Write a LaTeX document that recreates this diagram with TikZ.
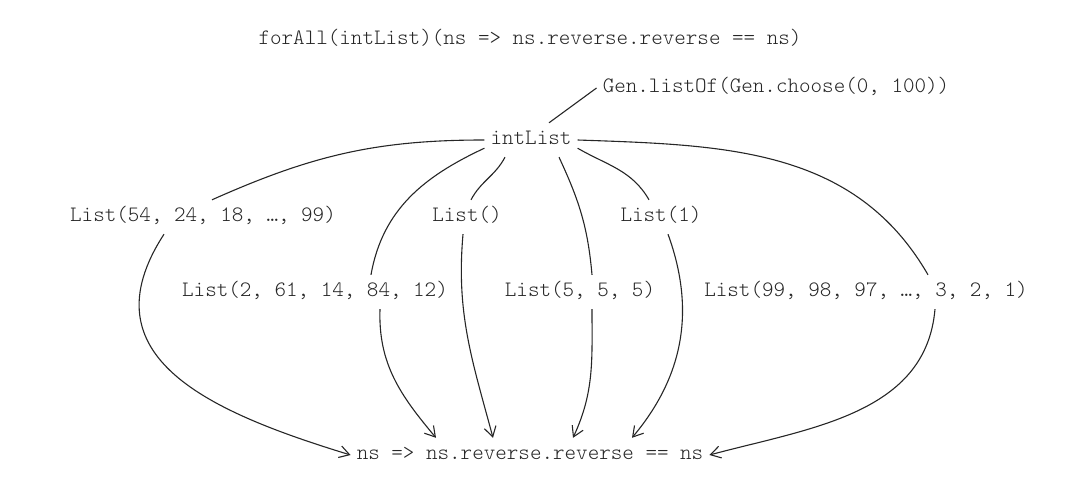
\documentclass[tikz,border=0pt]{standalone}
\usepackage{fontspec}
\setmonofont{Latin Modern Mono Light}
\usepackage{tikz}
\usetikzlibrary{positioning,arrows.meta}
\definecolor{inkgrey}{HTML}{262626}
\newcommand{\propText}{ns => ns.reverse.reverse == ns}

\begin{document}
\begin{tikzpicture}[x=1pt,y=1pt,
  code/.style={font=\fontsize{22}{24}\selectfont\ttfamily, text=inkgrey, inner xsep=6pt,
               inner ysep=0pt, text height=13pt, text depth=3pt, minimum height=34pt},
  link/.style={draw=inkgrey, line width=1.1pt},
  flow/.style={link, -{Straight Barb[length=10pt,width=12pt,line width=1.1pt]}}]
  \useasboundingbox (0,0) rectangle (1077,-494);

  % property and generator
  \node[code] (forall) at (530,-40) {forAll(intList)(\propText)};
  \node[code] (gen) at (776,-88) {Gen.listOf(Gen.choose(0, 100))};
  \node[code] (intlist) at (531,-140) {intList};

  % sample values
  \node[code] (l54) at (203,-217) {List(54, 24, 18, …, 99)};
  \node[code] (lnil) at (467,-217) {List()};
  \node[code] (l1) at (661,-217) {List(1)};
  \node[code] (l2) at (315,-292) {List(2, 61, 14, 84, 12)};
  \node[code] (l5) at (580,-292) {List(5, 5, 5)};
  \node[code] (l99) at (866,-292) {List(99, 98, 97, …, 3, 2, 1)};

  \node[code] (prop) at (530,-455) {\propText};

  \draw[link] ([xshift=18]intlist.north) -- (gen.west);

  \draw[link] (intlist.west) to[out=180,in=24] ([xshift=9]l54.north);
  \draw[link] (intlist.190) to[out=205,in=80] ([xshift=56]l2.north);
  \draw[link] ([xshift=-26]intlist.south) to[out=242,in=62] ([xshift=4]lnil.north);
  \draw[link] ([xshift=28]intlist.south) to[out=295,in=95] ([xshift=12]l5.north);
  \draw[link] (intlist.-10) to[out=-30,in=120] ([xshift=-12]l1.north);
  \draw[link] (intlist.east) to[out=-2,in=120] ([xshift=62]l99.north);

  \draw[flow] ([xshift=-39]l54.south) to[out=237,in=163,looseness=1.3] (prop.west);
  \draw[flow] ([xshift=65]l2.south) to[out=268,in=130] ([xshift=-94]prop.north);
  \draw[flow] ([xshift=-4]lnil.south) to[out=265,in=105] ([xshift=-37]prop.north);
  \draw[flow] ([xshift=12]l5.south) to[out=270,in=65] ([xshift=43]prop.north);
  \draw[flow] ([xshift=7]l1.south) to[out=290,in=50] ([xshift=102]prop.north);
  \draw[flow] ([xshift=69]l99.south) to[out=265,in=15] (prop.east);
\end{tikzpicture}
\end{document}
